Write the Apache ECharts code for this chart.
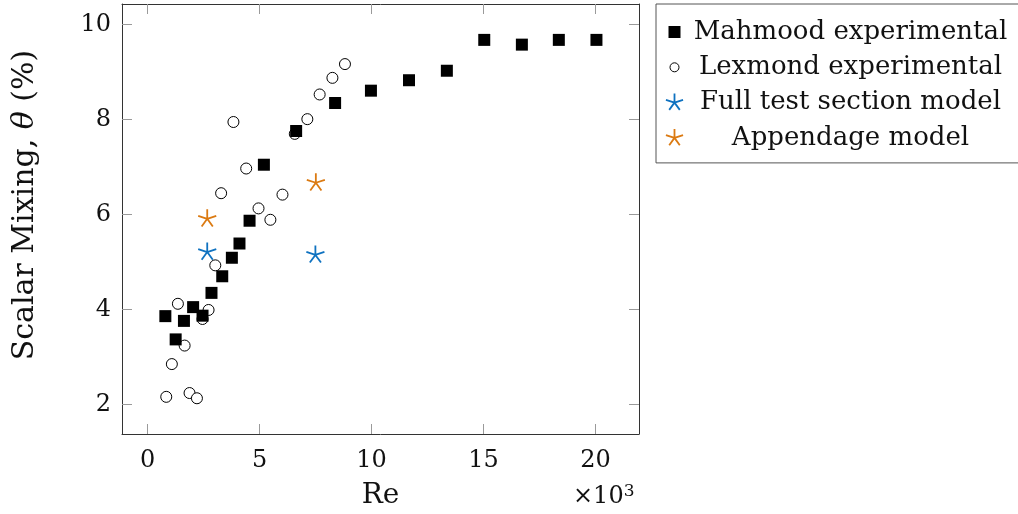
<!DOCTYPE html>
<html>
<head>
<meta charset="utf-8">
<script src="https://cdn.jsdelivr.net/npm/echarts@6/dist/echarts.min.js"></script>
<style>html,body{margin:0;padding:0;background:#fff;}#c{width:1018px;height:514px;}</style>
</head>
<body>
<div id="c"></div>
<script>
// ---- data (Re in thousands, theta in %) ----
const mahmoodRe    = [0.79, 1.25, 1.62, 2.03, 2.45, 2.85, 3.33, 3.76, 4.10, 4.55, 5.19, 6.63, 8.37, 9.97, 11.67, 13.36, 15.03, 16.71, 18.36, 20.04];
const mahmoodTheta = [3.86, 3.37, 3.76, 4.05, 3.87, 4.35, 4.70, 5.09, 5.39, 5.87, 7.05, 7.76, 8.35, 8.61, 8.83, 9.03, 9.68, 9.58, 9.68, 9.68];
const lexmondRe    = [0.83, 1.08, 1.35, 1.65, 1.87, 2.20, 2.45, 2.72, 3.02, 3.28, 3.83, 4.40, 4.95, 5.48, 6.02, 6.57, 7.13, 7.68, 8.25, 8.81];
const lexmondTheta = [2.16, 2.85, 4.12, 3.24, 2.24, 2.13, 3.80, 3.99, 4.93, 6.45, 7.95, 6.97, 6.13, 5.89, 6.42, 7.70, 8.01, 8.53, 8.88, 9.17];
const fullRe       = [2.66, 7.49];
const fullTheta    = [5.21, 5.15];
const appRe        = [2.66, 7.51];
const appTheta     = [5.91, 6.67];
const xTicks = [0, 5, 10, 15, 20];
const yTicks = [2, 4, 6, 8, 10];
const seriesNames = ['Mahmood experimental', 'Lexmond experimental', 'Full test section model', 'Appendage model'];

const FONT = 'DejaVu Serif';
const BLUE = '#0f72c0';
const ORANGE = '#db7a12';
const STAR = 'path://M-10 -10M10 10M0 0L0 -10M0 0L9.51 -3.09M0 0L5.88 8.09M0 0L-5.88 8.09M0 0L-9.51 -3.09';
const STAR_ICON = 'path://M-10 -10M10 10M0 0L0 -9M0 0L8.56 -2.78M0 0L5.29 7.28M0 0L-5.29 7.28M0 0L-8.56 -2.78';
const SQ_ICON = 'path://M0 0M20 20M4 4H16V16H4Z';
const CIRC_ICON = 'path://M0 0M20 20M14.5 10A4.5 4.5 0 1 1 5.5 10A4.5 4.5 0 1 1 14.5 10Z';

function zip(a, b) { return a.map((v, i) => [v, b[i]]); }

const chart = echarts.init(document.getElementById('c'), null, {renderer: 'canvas'});
const frameColor = '#333';
const tickColor = '#9a9a9a';
const axisCommon = {
  type: 'value',
  axisLine: {show: true, onZero: false, lineStyle: {color: frameColor, width: 1}},
  splitLine: {show: false},
};
chart.setOption({
  animation: false,
  backgroundColor: '#fff',
  grid: {left: 122, top: 4, width: 517, height: 430, outerBoundsMode: 'none', containLabel: false},
  xAxis: [
    Object.assign({}, axisCommon, {
      position: 'bottom', min: -1.146, max: 21.94,
      axisTick: {show: true, inside: true, length: 10, customValues: xTicks, lineStyle: {color: tickColor}},
      axisLabel: {show: true, customValues: xTicks, margin: 15, fontFamily: FONT, fontSize: 24, color: '#111'},
      name: 'Re', nameLocation: 'middle', nameGap: 48,
      nameTextStyle: {fontFamily: FONT, fontSize: 28, color: '#111'}
    }),
    Object.assign({}, axisCommon, {
      position: 'top', min: -1.146, max: 21.94,
      axisTick: {show: true, inside: true, length: 10, customValues: xTicks, lineStyle: {color: tickColor}},
      axisLabel: {show: false}
    })
  ],
  yAxis: [
    Object.assign({}, axisCommon, {
      position: 'left', min: 1.377, max: 10.436,
      axisTick: {show: true, inside: true, length: 10, customValues: yTicks, lineStyle: {color: tickColor}},
      axisLabel: {show: true, customValues: yTicks, margin: 11, fontFamily: FONT, fontSize: 24, color: '#111'},
      name: 'Scalar Mixing, {i|θ} (%)', nameLocation: 'middle', nameGap: 82, nameRotate: 90,
      nameTextStyle: {fontFamily: FONT, fontSize: 30, color: '#111', padding: [0, 0, 0, 28],
        rich: {i: {fontFamily: FONT, fontStyle: 'italic', fontSize: 30, color: '#111'}}}
    }),
    Object.assign({}, axisCommon, {
      position: 'right', min: 1.377, max: 10.436,
      axisTick: {show: true, inside: true, length: 10, customValues: yTicks, lineStyle: {color: tickColor}},
      axisLabel: {show: false}
    })
  ],
  legend: {
    orient: 'vertical', left: 656, top: 4,
    padding: [15, 7, 12, 6], itemGap: 9.3, itemWidth: 20, itemHeight: 20,
    borderColor: '#555', borderWidth: 1, backgroundColor: '#fff',
    selectedMode: false,
    formatter: n => '{t|' + n + '}',
    textStyle: {fontFamily: FONT, fontSize: 26, color: '#111',
      rich: {t: {width: 322, align: 'center', fontFamily: FONT, fontSize: 26, lineHeight: 30, color: '#111'}}},
    data: [
      {name: seriesNames[0], icon: SQ_ICON, itemStyle: {color: '#000', borderWidth: 0}},
      {name: seriesNames[1], icon: CIRC_ICON, itemStyle: {color: '#fff', borderColor: '#000', borderWidth: 1}},
      {name: seriesNames[2], icon: STAR_ICON, itemStyle: {color: 'none', borderColor: BLUE, borderWidth: 1.8}},
      {name: seriesNames[3], icon: STAR_ICON, itemStyle: {color: 'none', borderColor: ORANGE, borderWidth: 1.8}}
    ]
  },
  graphic: [{
    type: 'text', left: 573, top: 483,
    style: {text: '×10{s|3}', fontFamily: FONT, fontSize: 24, fill: '#111',
      rich: {s: {fontFamily: FONT, fontSize: 17, fill: '#111', verticalAlign: 'top', padding: [0, 0, 10, 0]}}}
  }],
  series: [
    {name: seriesNames[1], type: 'scatter', xAxisIndex: 0, yAxisIndex: 0,
      data: zip(lexmondRe, lexmondTheta), symbol: 'circle', symbolSize: 11,
      itemStyle: {color: '#fff', borderColor: '#000', borderWidth: 1, opacity: 1},
      emphasis: {disabled: true}, silent: true, z: 2},
    {name: seriesNames[0], type: 'scatter', xAxisIndex: 0, yAxisIndex: 0,
      data: zip(mahmoodRe, mahmoodTheta), symbol: 'rect', symbolSize: 12,
      itemStyle: {color: '#000', opacity: 1},
      emphasis: {disabled: true}, silent: true, z: 3},
    {name: seriesNames[2], type: 'scatter', xAxisIndex: 0, yAxisIndex: 0,
      data: zip(fullRe, fullTheta), symbol: STAR, symbolSize: 19,
      itemStyle: {color: 'none', borderColor: BLUE, borderWidth: 1.8, opacity: 1},
      emphasis: {disabled: true}, silent: true, z: 4},
    {name: seriesNames[3], type: 'scatter', xAxisIndex: 0, yAxisIndex: 0,
      data: zip(appRe, appTheta), symbol: STAR, symbolSize: 19,
      itemStyle: {color: 'none', borderColor: ORANGE, borderWidth: 1.8, opacity: 1},
      emphasis: {disabled: true}, silent: true, z: 4}
  ]
});
</script>
</body>
</html>
